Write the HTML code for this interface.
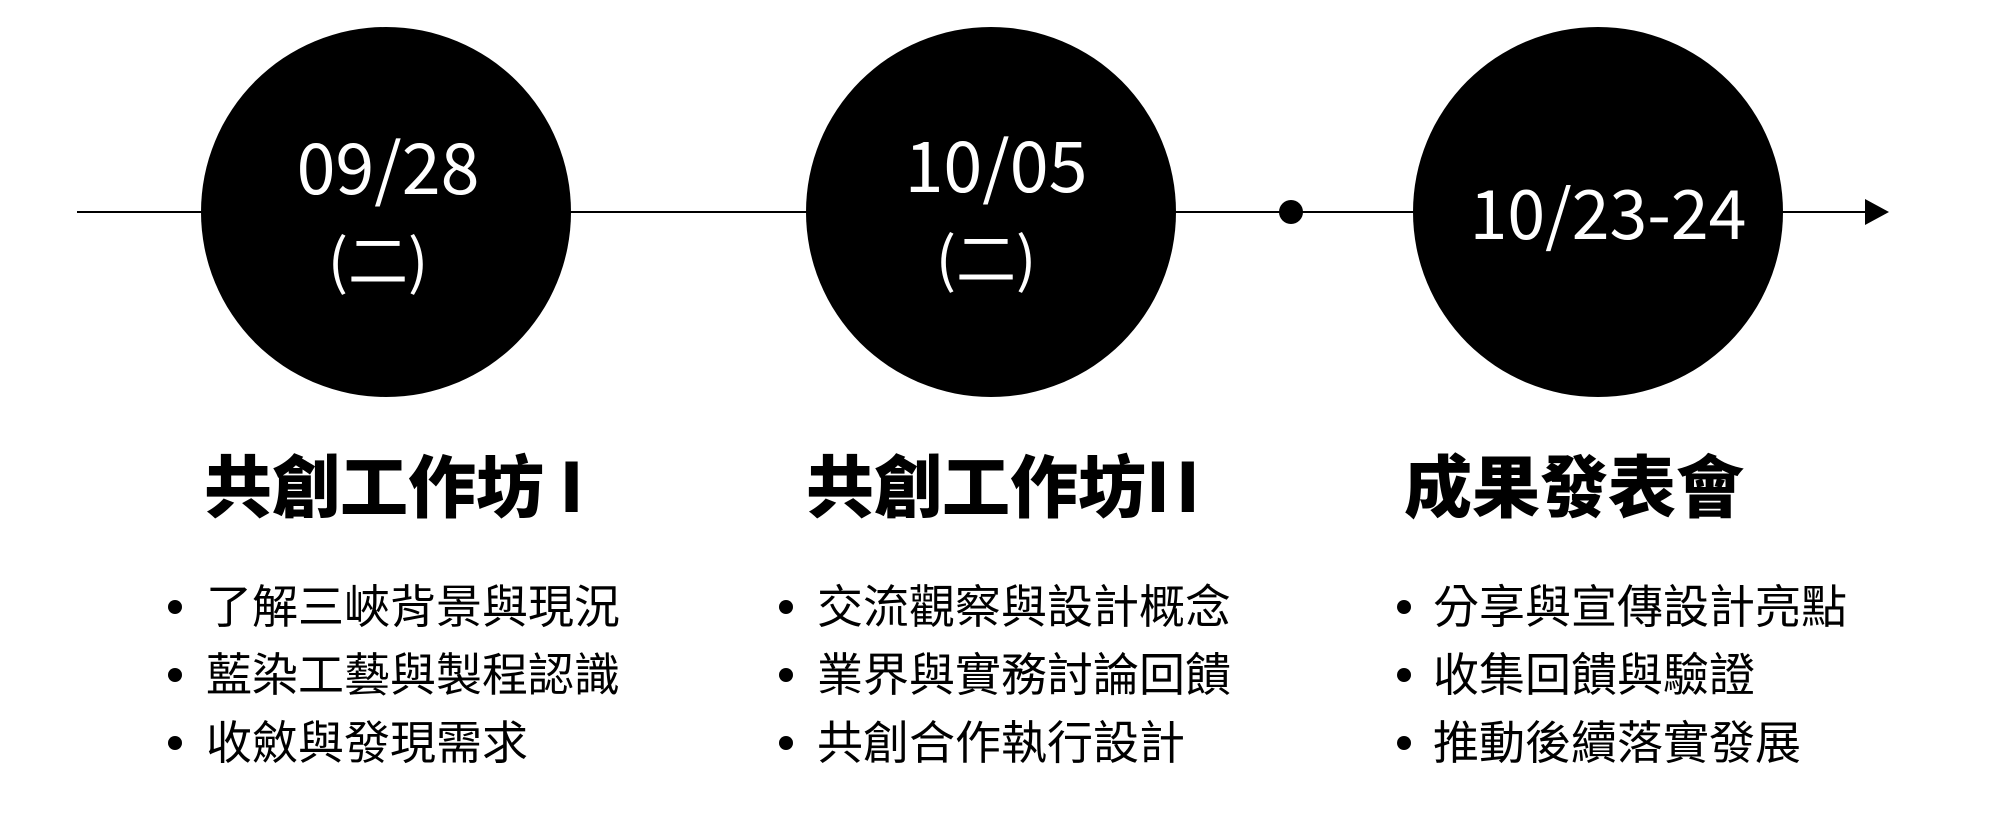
<!DOCTYPE html>
<html><head><meta charset="utf-8"><style>
html,body{margin:0;padding:0;background:#fff;}
body{width:2000px;height:817px;position:relative;overflow:hidden;font-family:"Liberation Sans","Noto Sans CJK TC",sans-serif;}
.t{position:absolute;white-space:nowrap;line-height:1;}
.d{color:#fff;font-size:70px;font-family:"Noto Sans CJK TC",sans-serif;transform:translate(-50%,-50%);}
.p{color:#fff;font-size:60px;font-family:"Noto Sans CJK TC",sans-serif;transform:translate(-50%,-50%);}
.h{font-size:68px;font-weight:900;font-family:"Noto Sans CJK TC",sans-serif;transform:translateY(-50%);}
.b{font-size:46px;font-family:"Noto Sans CJK TC",sans-serif;transform:translateY(-50%);}
.dot{position:absolute;width:14px;height:14px;border-radius:50%;background:#000;transform:translate(-50%,-50%);}
</style></head><body>
<svg width="2000" height="817" style="position:absolute;left:0;top:0">
<line x1="77" y1="212" x2="1868" y2="212" stroke="#000" stroke-width="2"/>
<polygon points="1865,199 1889,212 1865,225" fill="#000"/>
<circle cx="386" cy="212" r="185" fill="#000"/>
<circle cx="991" cy="212" r="185" fill="#000"/>
<circle cx="1598" cy="212" r="185" fill="#000"/>
<circle cx="1291" cy="212" r="12" fill="#000"/>
</svg>
<div class="t d" style="left:388px;top:165px">09/28</div>
<div class="t p" style="left:378px;top:258px">(二)</div>
<div class="t d" style="left:996px;top:163px">10/05</div>
<div class="t p" style="left:986px;top:256px">(二)</div>
<div class="t d" style="left:1608px;top:210px;font-size:68px">10/23-24</div>

<div class="t h" style="left:204px;top:483px">共創工作坊 I</div>
<div class="t h" style="left:806px;top:483px">共創工作坊<span style="letter-spacing:6px">II</span></div>
<div class="t h" style="left:1404px;top:483px">成果發表會</div>

<div class="dot" style="left:175px;top:607px"></div>
<div class="dot" style="left:175px;top:675px"></div>
<div class="dot" style="left:175px;top:743px"></div>
<div class="t b" style="left:206px;top:604px">了解三峽背景與現況</div>
<div class="t b" style="left:206px;top:672px">藍染工藝與製程認識</div>
<div class="t b" style="left:206px;top:740px">收斂與發現需求</div>

<div class="dot" style="left:786px;top:607px"></div>
<div class="dot" style="left:786px;top:675px"></div>
<div class="dot" style="left:786px;top:743px"></div>
<div class="t b" style="left:817px;top:604px">交流觀察與設計概念</div>
<div class="t b" style="left:817px;top:672px">業界與實務討論回饋</div>
<div class="t b" style="left:817px;top:740px">共創合作執行設計</div>

<div class="dot" style="left:1404px;top:607px"></div>
<div class="dot" style="left:1404px;top:675px"></div>
<div class="dot" style="left:1404px;top:743px"></div>
<div class="t b" style="left:1433px;top:604px">分享與宣傳設計亮點</div>
<div class="t b" style="left:1433px;top:672px">收集回饋與驗證</div>
<div class="t b" style="left:1433px;top:740px">推動後續落實發展</div>
</body></html>
